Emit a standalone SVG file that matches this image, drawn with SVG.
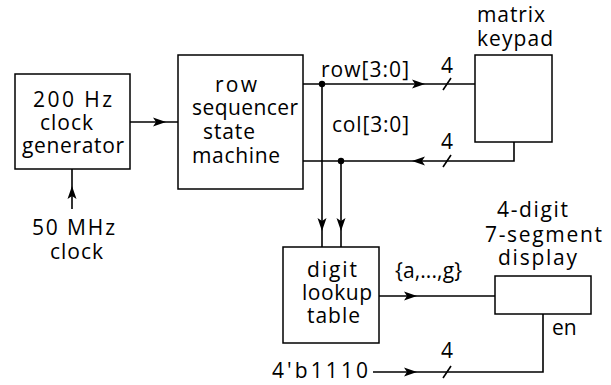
<svg xmlns="http://www.w3.org/2000/svg" xmlns:xlink="http://www.w3.org/1999/xlink" width="611" height="385" viewBox="0 0 611 385">
<style>
.box{fill:#fff;stroke:#000;stroke-width:1.5}
.w{fill:none;stroke:#000;stroke-width:1.6}
text{font-family:"Open Sans","Noto Sans",sans-serif;font-size:21px;fill:#000}
.c{text-anchor:middle}
</style>
<defs>
<path id="ah" d="M0,0 L-13,-4.5 L-10,0 L-13,4.5 Z" fill="#000"/>
</defs>
<rect width="611" height="385" fill="#fff"/>
<g id="connectors">
<path class="w" d="M130,122 H178"/>
<use xlink:href="#ah" transform="translate(166,122)"/>
<path class="w" d="M72,209 V169"/>
<use xlink:href="#ah" transform="translate(72,186) rotate(-90)"/>
<path class="w" d="M303,84 H475"/>
<use xlink:href="#ah" transform="translate(425,84)"/>
<path class="w" d="M443,90 L451,78"/>
<circle cx="322" cy="84" r="3.2"/>
<path class="w" d="M514,142 V161 H303"/>
<use xlink:href="#ah" transform="translate(412,161) rotate(180)"/>
<path class="w" d="M443,167 L451,155"/>
<circle cx="341" cy="161" r="3.2"/>
<path class="w" d="M322,84 V247"/>
<use xlink:href="#ah" transform="translate(322,231) rotate(90)"/>
<path class="w" d="M341,161 V247"/>
<use xlink:href="#ah" transform="translate(341,231) rotate(90)"/>
<path class="w" d="M379,296 H495"/>
<use xlink:href="#ah" transform="translate(417,296)"/>
<path class="w" d="M373,372 H543 V314"/>
<use xlink:href="#ah" transform="translate(417,372)"/>
<path class="w" d="M443,378 L451,366"/>
</g>
<g id="clockgen">
<rect class="box" x="15" y="74" width="115" height="95"/>
<text x="33" y="107" textLength="79">200 Hz</text>
<text x="40" y="130" textLength="53">clock</text>
<text x="22" y="153" textLength="102">generator</text>
</g>
<g id="clk50">
<text x="32" y="235" textLength="83">50 MHz</text>
<text x="50" y="259" textLength="53">clock</text>
</g>
<g id="sequencer">
<rect class="box" x="178" y="55" width="125" height="134"/>
<text x="215" y="92" textLength="42">row</text>
<text x="192" y="115" textLength="106">sequencer</text>
<text x="203" y="139" textLength="52">state</text>
<text x="192" y="163" textLength="88">machine</text>
</g>
<g id="keypad">
<rect class="box" x="475" y="55" width="77" height="87"/>
<text x="477" y="22" textLength="68">matrix</text>
<text x="477" y="46" textLength="76">keypad</text>
</g>
<g id="lookup">
<rect class="box" x="283" y="247" width="96" height="96"/>
<text x="307" y="277" textLength="50">digit</text>
<text x="302" y="300" textLength="70">lookup</text>
<text x="307" y="323" textLength="53">table</text>
</g>
<g id="display">
<rect class="box" x="495" y="276" width="96" height="38"/>
<text x="497" y="217" textLength="71">4-digit</text>
<text x="485" y="242" textLength="117">7-segment</text>
<text x="498" y="265" textLength="79">display</text>
</g>
<g id="labels">
<text x="321" y="77" textLength="88">row[3:0]</text>
<text class="c" x="447" y="73">4</text>
<text x="332" y="132" textLength="77">col[3:0]</text>
<text class="c" x="447" y="149">4</text>
<text x="395" y="278" textLength="67">{a,...,g}</text>
<text x="552" y="335">en</text>
<text class="c" x="447" y="358">4</text>
<text x="272" y="378" textLength="96">4'b1110</text>
</g>
</svg>
